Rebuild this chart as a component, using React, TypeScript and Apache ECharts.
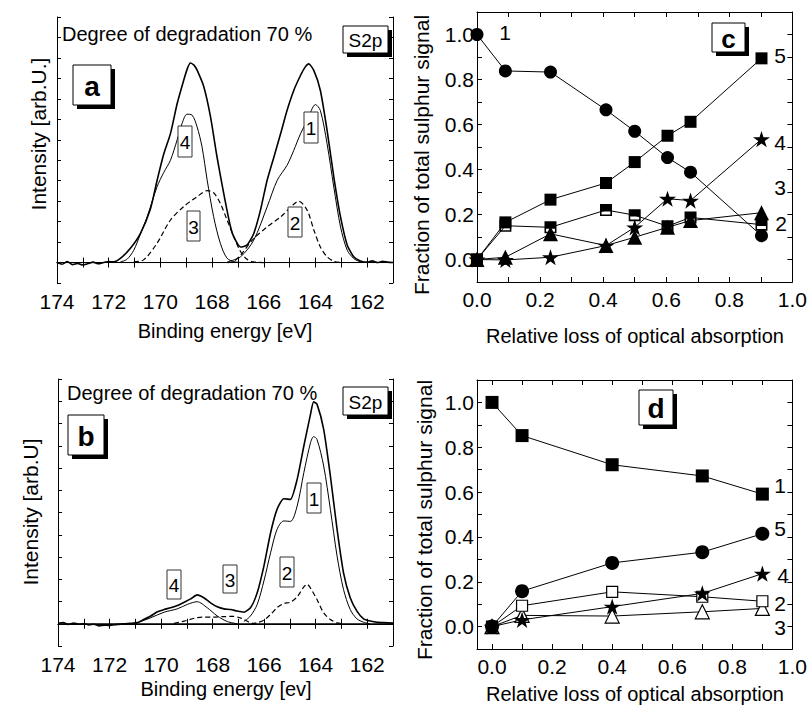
import React, { useEffect, useRef } from "react";
import * as echarts from "echarts";

const FONT = "'Liberation Sans', Arial, sans-serif";

// ---------- Panel a (S2p spectrum) ----------
const aEnvelope: number[][] = [
  [174.0, 0.0], [173.8, -0.08], [173.6, 0.05], [173.4, -0.1], [173.2, -0.04], [173.0, -0.12],
  [172.8, -0.05], [172.6, 0.02], [172.4, -0.06], [172.2, 0.0], [172.0, 0.05], [171.81, 0.03],
  [171.55, 0.2], [171.16, 0.7], [170.77, 1.43], [170.39, 2.6], [170.13, 4.0], [169.87, 5.3],
  [169.61, 6.3], [169.35, 7.77], [169.1, 8.9], [168.95, 9.5], [168.84, 9.75], [168.7, 9.65],
  [168.58, 9.4], [168.32, 8.59], [168.06, 7.12], [167.81, 5.17], [167.55, 3.38], [167.29, 1.76],
  [167.16, 1.25], [166.9, 0.76], [166.65, 0.85], [166.39, 1.41], [166.13, 2.55], [165.87, 4.02],
  [165.61, 5.15], [165.35, 6.29], [165.1, 7.43], [164.84, 8.41], [164.58, 9.14], [164.4, 9.55],
  [164.26, 9.71], [164.06, 9.38], [163.81, 8.41], [163.55, 6.46], [163.29, 4.18], [163.03, 2.23],
  [162.77, 0.85], [162.52, 0.28], [162.26, 0.08], [162.0, 0.02], [161.8, 0.08], [161.6, 0.0],
  [161.4, 0.06], [161.2, 0.02], [161.0, 0.0],
];
const aComp4: number[][] = [
  [171.55, 0.03], [171.29, 0.16], [171.03, 0.6], [170.77, 1.4], [170.52, 2.2], [170.13, 3.7],
  [169.87, 4.4], [169.61, 5.0], [169.35, 6.0], [169.16, 6.8], [168.97, 7.25], [168.77, 7.2],
  [168.58, 6.63], [168.39, 5.66], [168.19, 4.03], [167.94, 2.24], [167.68, 0.94], [167.42, 0.21],
  [167.1, 0.03], [166.7, 0.0],
];
const aComp3: number[][] = [
  [171.03, 0.03], [170.65, 0.13], [170.13, 0.94], [169.61, 2.08], [169.1, 2.73], [168.58, 3.22],
  [168.19, 3.51], [167.94, 3.41], [167.68, 2.89], [167.42, 2.08], [167.16, 1.27], [166.9, 0.54],
  [166.65, 0.16], [166.39, 0.03], [166.0, 0.0],
];
const aComp1: number[][] = [
  [167.42, 0.03], [166.9, 0.28], [166.39, 1.09], [165.87, 2.72], [165.48, 4.02], [165.1, 4.75],
  [164.84, 5.48], [164.58, 6.29], [164.32, 6.94], [164.0, 7.72], [163.81, 7.43], [163.55, 5.8],
  [163.29, 3.69], [163.03, 1.74], [162.77, 0.6], [162.52, 0.2], [162.26, 0.03], [162.0, 0.0],
];
const aComp2: number[][] = [
  [167.4, 0.0], [167.16, 0.06], [166.9, 0.36], [166.39, 1.17], [165.87, 1.74], [165.35, 2.23],
  [164.84, 2.85], [164.65, 3.0], [164.32, 2.55], [164.06, 1.58], [163.81, 0.76], [163.55, 0.28],
  [163.29, 0.06], [163.0, 0.0],
];

// ---------- Panel b (S2p spectrum) ----------
const bEnvelope: number[][] = [
  [174.0, 0.02], [173.8, 0.05], [173.6, -0.03], [173.4, 0.03], [173.2, -0.02], [173.0, 0.0],
  [172.8, -0.05], [172.6, -0.02], [172.4, -0.1], [172.2, -0.06], [172.0, -0.08], [171.7, -0.03],
  [171.4, 0.0], [171.2, 0.02], [170.92, 0.05], [170.66, 0.2], [170.4, 0.35], [170.14, 0.54],
  [169.88, 0.64], [169.63, 0.72], [169.37, 0.82], [169.1, 0.97], [168.85, 1.12], [168.6, 1.3],
  [168.34, 1.17], [168.08, 0.94], [167.82, 0.76], [167.56, 0.67], [167.3, 0.64], [167.05, 0.57],
  [166.79, 0.52], [166.53, 0.72], [166.27, 1.39], [166.01, 2.59], [165.75, 4.09], [165.5, 5.14],
  [165.24, 5.62], [164.98, 5.59], [164.72, 6.49], [164.46, 7.99], [164.2, 9.42], [164.08, 9.97],
  [163.95, 9.87], [163.69, 8.74], [163.43, 6.64], [163.17, 4.24], [162.92, 2.29], [162.66, 1.17],
  [162.4, 0.57], [162.14, 0.22], [161.88, 0.12], [161.6, 0.06], [161.37, 0.05], [161.0, 0.03],
];
const bComp1: number[][] = [
  [166.79, 0.1], [166.53, 0.35], [166.27, 0.87], [166.01, 1.92], [165.75, 3.19], [165.5, 4.24],
  [165.24, 4.62], [164.98, 4.6], [164.72, 5.29], [164.46, 6.79], [164.2, 8.14], [164.08, 8.41],
  [163.95, 8.29], [163.69, 7.09], [163.43, 5.14], [163.17, 3.04], [162.92, 1.54], [162.66, 0.64],
  [162.4, 0.22], [162.14, 0.07], [161.9, 0.0],
];
const bComp2: number[][] = [
  [166.5, 0.0], [166.27, 0.05], [166.01, 0.16], [165.75, 0.42], [165.5, 0.72], [165.24, 0.91],
  [164.98, 0.97], [164.72, 1.21], [164.46, 1.66], [164.33, 1.77], [164.2, 1.6], [163.95, 1.09],
  [163.69, 0.49], [163.43, 0.19], [163.17, 0.04], [162.9, 0.0],
];
const bComp4: number[][] = [
  [171.0, 0.0], [170.92, 0.04], [170.4, 0.27], [169.88, 0.52], [169.37, 0.67], [168.98, 0.87],
  [168.6, 0.99], [168.21, 0.72], [167.82, 0.35], [167.43, 0.1], [167.05, 0.0],
];
const bComp3: number[][] = [
  [169.5, 0.02], [169.1, 0.12], [168.7, 0.25], [168.4, 0.3], [168.0, 0.3], [167.6, 0.32],
  [167.2, 0.33], [166.9, 0.25], [166.6, 0.08], [166.4, 0.0],
];
const baseline: number[][] = [[174, 0], [161, 0]];

const energyLabels = [174, 172, 170, 168, 166, 164, 162];
const energyTicks = [174, 173, 172, 171, 170, 169, 168, 167, 166, 165, 164, 163, 162, 161];

// ---------- Panel c ----------
const cX = [0, 0.09, 0.233, 0.409, 0.5, 0.604, 0.677, 0.902];
const c1 = [1.0, 0.838, 0.833, 0.665, 0.57, 0.453, 0.388, 0.106];
const c5 = [0.0, 0.165, 0.266, 0.34, 0.433, 0.55, 0.612, 0.894];
const c2 = [0.0, 0.15, 0.143, 0.22, 0.197, 0.148, 0.187, 0.155];
const c3 = [0.0, 0.01, 0.114, 0.062, 0.099, 0.143, 0.173, 0.208];
const c4 = [0.0, -0.002, 0.01, 0.062, 0.143, 0.27, 0.262, 0.535];

// ---------- Panel d ----------
const dX = [0, 0.1, 0.4, 0.7, 0.9];
const d1 = [1.0, 0.852, 0.722, 0.672, 0.591];
const d5 = [0.0, 0.158, 0.284, 0.332, 0.414];
const d2 = [0.0, 0.093, 0.155, 0.133, 0.113];
const d4 = [0.0, 0.03, 0.089, 0.148, 0.236];
const d3 = [0.0, 0.05, 0.047, 0.066, 0.081];

const fracLabels = [0, 0.2, 0.4, 0.6, 0.8, 1.0];
const fracTicks = [0, 0.1, 0.2, 0.3, 0.4, 0.5, 0.6, 0.7, 0.8, 0.9, 1.0];

const STAR =
  "path://M50,0L61.2,34.5L97.6,34.5L68.2,55.9L79.4,90.5L50,69.1L20.6,90.5L31.8,55.9L2.4,34.5L38.8,34.5Z";
const HALF_SQUARE = "path://M0,0H10V10H0Z M1.3,6.2V8.7H8.7V6.2Z";

const TICK_FS = 21;
const TITLE_FS = 20;

function buildOption() {
  const grids = [
    { left: 57, top: 17, width: 336, height: 266 },
    { left: 58, top: 379, width: 335, height: 267 },
    { left: 477, top: 12, width: 316, height: 270 },
    { left: 477, top: 380, width: 316, height: 269 },
  ];
  const line = { lineStyle: { color: "#000", width: 1 } };

  const xAxis: any[] = [];
  const yAxis: any[] = [];
  // spectra panels
  [0, 1].forEach((g) => {
    const xb = {
      gridIndex: g,
      type: "value",
      min: 161,
      max: 174,
      inverse: true,
      axisLine: line,
      splitLine: { show: false },
      axisTick: { show: true, inside: false, length: 5, customValues: energyTicks, lineStyle: { color: "#000" } },
      axisLabel: {
        show: true,
        customValues: energyLabels,
        color: "#000",
        fontSize: TICK_FS,
        fontFamily: FONT,
        margin: 8,
      },
    };
    xAxis.push(xb);
    xAxis.push({ ...xb, position: "top", axisLabel: { show: false } });
    const yb = {
      gridIndex: g,
      type: "value",
      min: -1,
      max: g === 0 ? 12 : 11,
      interval: 1,
      axisLine: { show: true, ...line },
      splitLine: { show: false },
      axisTick: { show: true, inside: true, length: 4, lineStyle: { color: "#000" } },
      axisLabel: { show: false },
    };
    yAxis.push(yb);
    yAxis.push({ ...yb, position: "right" });
  });
  // fraction panels
  [2, 3].forEach((g) => {
    const xb = {
      gridIndex: g,
      type: "value",
      min: g === 2 ? 0 : -0.05,
      max: 1.0,
      axisLine: { show: true, onZero: false, ...line },
      splitLine: { show: false },
      axisTick: { show: true, inside: true, length: 5, customValues: fracTicks, lineStyle: { color: "#000" } },
      axisLabel: {
        show: true,
        customValues: fracLabels,
        formatter: (v: number) => v.toFixed(1),
        color: "#000",
        fontSize: TICK_FS,
        fontFamily: FONT,
        margin: 7,
      },
    };
    xAxis.push(xb);
    xAxis.push({ ...xb, position: "top", axisLabel: { show: false } });
    const yb = {
      gridIndex: g,
      type: "value",
      min: -0.1,
      max: 1.1,
      axisLine: { show: true, onZero: false, ...line },
      splitLine: { show: false },
      axisTick: { show: true, inside: true, length: 5, customValues: fracTicks, lineStyle: { color: "#000" } },
      axisLabel: {
        show: true,
        customValues: fracLabels,
        formatter: (v: number) => v.toFixed(1),
        color: "#000",
        fontSize: TICK_FS,
        fontFamily: FONT,
        margin: 3,
      },
    };
    yAxis.push(yb);
    yAxis.push({ ...yb, position: "right", axisLabel: { show: false } });
  });

  const curve = (data: number[][], ai: number, width: number, dashed = false, smooth = 0.3) => ({
    type: "line",
    xAxisIndex: ai,
    yAxisIndex: ai,
    data,
    symbol: "none",
    smooth,
    silent: true,
    lineStyle: { color: "#000", width, type: dashed ? [5, 3] : "solid" },
    z: 3,
  });
  const pts = (xs: number[], ys: number[], ai: number, symbol: string, size: number, filled: boolean) => ({
    type: "line",
    xAxisIndex: ai,
    yAxisIndex: ai,
    data: xs.map((x, i) => [x, ys[i]]),
    symbol,
    symbolSize: size,
    symbolKeepAspect: true,
    showSymbol: true,
    showAllSymbol: true,
    clip: false,
    silent: true,
    lineStyle: { color: "#000", width: 1 },
    itemStyle: filled
      ? { color: "#000", borderColor: "#000", borderWidth: 0 }
      : { color: "#fff", borderColor: "#000", borderWidth: 1.2 },
    z: 4,
  });

  const series: any[] = [
    curve(baseline, 0, 1, false, 0),
    curve(aComp3, 0, 1.2, true),
    curve(aComp2, 0, 1.2, true),
    curve(aComp4, 0, 1),
    curve(aComp1, 0, 1),
    curve(aEnvelope, 0, 1.6, false, 0.2),
    curve(baseline, 2, 1, false, 0),
    curve(bComp3, 2, 1.2, true),
    curve(bComp2, 2, 1.2, true),
    curve(bComp4, 2, 1),
    curve(bComp1, 2, 1),
    curve(bEnvelope, 2, 1.6, false, 0.2),
    pts(cX, c2, 4, HALF_SQUARE, 12, true),
    pts(cX, c3, 4, "triangle", 15, true),
    pts(cX, c4, 4, STAR, 17, true),
    pts(cX, c5, 4, "rect", 12, true),
    pts(cX, c1, 4, "circle", 13, true),
    pts(dX, d3, 6, "triangle", 14, false),
    pts(dX, d2, 6, "rect", 11, false),
    pts(dX, d4, 6, STAR, 17, true),
    pts(dX, d5, 6, "circle", 14, true),
    pts(dX, d1, 6, "rect", 13, true),
  ];

  const txt = (text: string, x: number, y: number, size: number, o: any = {}) => ({
    type: "text",
    x,
    y,
    rotation: o.rot || 0,
    z: 120,
    style: {
      text,
      font: `${o.bold ? "bold " : ""}${size}px ${FONT}`,
      fill: "#000",
      textAlign: o.align || "center",
      align: o.align || "center",
      textVerticalAlign: "middle",
      verticalAlign: "middle",
    },
  });
  const shadowBox = (x1: number, y1: number, x2: number, y2: number, label: string, size: number, bold: boolean) => [
    { type: "rect", z: 110, shape: { x: x1 + 4, y: y1 + 4, width: x2 - x1, height: y2 - y1 }, style: { fill: "#000" } },
    {
      type: "rect",
      z: 111,
      shape: { x: x1, y: y1, width: x2 - x1, height: y2 - y1 },
      style: { fill: "#fff", stroke: "#000", lineWidth: 1 },
    },
    txt(label, (x1 + x2) / 2, (y1 + y2) / 2 + 1, size, { bold }),
  ];
  const numBox = (x1: number, y1: number, x2: number, y2: number, label: string) => [
    {
      type: "rect",
      z: 111,
      shape: { x: x1, y: y1, width: x2 - x1, height: y2 - y1 },
      style: { fill: "#fff", stroke: "#333", lineWidth: 1 },
    },
    txt(label, (x1 + x2) / 2, (y1 + y2) / 2 + 1, 19),
  ];

  const graphic: any[] = [
    // panel a
    txt("Degree of degradation 70 %", 62, 34, 20, { align: "left" }),
    ...shadowBox(343, 26, 388, 53, "S2p", 19, false),
    ...shadowBox(73, 65, 111, 105, "a", 28, true),
    ...numBox(178, 126, 192, 157, "4"),
    ...numBox(187, 211, 200, 241, "3"),
    ...numBox(288, 207, 302, 237, "2"),
    ...numBox(304, 112, 318, 143, "1"),
    txt("Binding energy [eV]", 225, 331, TITLE_FS),
    txt("Intensity [arb.U.]", 38, 134, 21, { rot: Math.PI / 2 }),
    // panel b
    txt("Degree of degradation 70 %", 67, 393, 20, { align: "left" }),
    ...shadowBox(343, 387, 388, 415, "S2p", 19, false),
    ...shadowBox(68, 415, 104, 455, "b", 28, true),
    ...numBox(167, 570, 181, 599, "4"),
    ...numBox(223, 565, 237, 593, "3"),
    ...numBox(280, 557, 294, 587, "2"),
    ...numBox(307, 483, 321, 513, "1"),
    txt("Binding energy [ev]", 226, 689, TITLE_FS),
    txt("Intensity [arb.U]", 30, 512, 21, { rot: Math.PI / 2 }),
    // panel c
    ...shadowBox(712, 23, 745, 52, "c", 26, true),
    txt("1", 505, 32, 21),
    txt("5", 780, 55, 21),
    txt("4", 780, 142, 21),
    txt("3", 780, 187, 21),
    txt("2", 781, 223, 21),
    txt("Fraction of total sulphur signal", 421, 155, 21, { rot: Math.PI / 2 }),
    txt("Relative loss of optical absorption", 635, 336, TITLE_FS),
    // panel d
    ...shadowBox(639, 390, 673, 425, "d", 28, true),
    txt("1", 780, 485, 21),
    txt("5", 780, 528, 21),
    txt("4", 783, 575, 21),
    txt("2", 780, 603, 21),
    txt("3", 780, 627, 21),
    txt("Fraction of total sulphur signal", 424, 520, 21, { rot: Math.PI / 2 }),
    txt("Relative loss of optical absorption", 635, 694, TITLE_FS),
  ];

  return {
    animation: false,
    backgroundColor: "#fff",
    textStyle: { fontFamily: FONT, color: "#000" },
    grid: grids.map((g) => ({ ...g, containLabel: false })),
    xAxis,
    yAxis,
    series,
    graphic,
  };
}

export default function App() {
  const ref = useRef<HTMLDivElement>(null);
  useEffect(() => {
    if (!ref.current) return;
    const chart = echarts.init(ref.current, null, { renderer: "svg" });
    chart.setOption(buildOption() as any);
    return () => chart.dispose();
  }, []);
  return (
    <div
      ref={ref}
      style={{ position: "fixed", left: 0, top: 0, width: 810, height: 712, background: "#fff" }}
    />
  );
}
